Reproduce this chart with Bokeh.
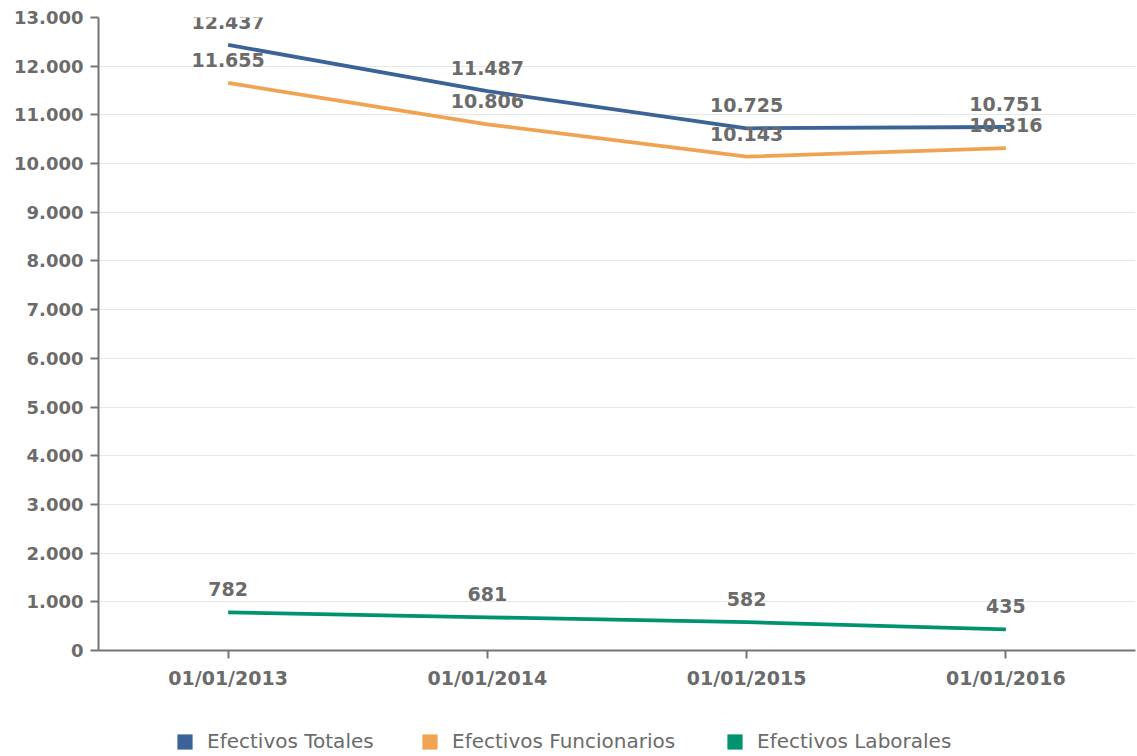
from bokeh.plotting import figure
from bokeh.layouts import column
from bokeh.models import ColumnDataSource, Legend, LegendItem, FixedTicker, Range1d, FactorRange
from bokeh.core.properties import value
from bokeh.embed import file_html
from bokeh.resources import INLINE

fechas = ["01/01/2013", "01/01/2014", "01/01/2015", "01/01/2016"]
totales = [12437, 11487, 10725, 10751]
funcionarios = [11655, 10806, 10143, 10316]
laborales = [782, 681, 582, 435]
series_names = ["Efectivos Totales", "Efectivos Funcionarios", "Efectivos Laborales"]
colors = ["#3b6397", "#f0a352", "#00936f"]
y_ticks = list(range(0, 13001, 1000))

def fmt(v):
    return f"{v:,}".replace(",", ".")

p = figure(width=1137, height=710, x_range=FactorRange(*fechas, range_padding=0),
           y_range=Range1d(0, 13000), output_backend="svg", toolbar_location=None,
           min_border_left=98, min_border_right=2, min_border_top=17, min_border_bottom=60)
p.outline_line_color = None
p.background_fill_color = "white"
p.border_fill_color = "white"

p.xgrid.grid_line_color = None
p.ygrid.grid_line_color = "#e6e6e6"
p.ygrid.grid_line_width = 1

p.yaxis.ticker = FixedTicker(ticks=y_ticks)
p.yaxis.major_label_overrides = {t: fmt(t) for t in y_ticks}
for ax in (p.xaxis, p.yaxis):
    ax.axis_line_color = "#757575"
    ax.axis_line_width = 2
    ax.major_tick_line_color = "#757575"
    ax.major_tick_line_width = 2
    ax.major_tick_out = 8
    ax.major_tick_in = 0
    ax.minor_tick_line_color = None
    ax.major_label_text_color = "#6b6b6b"
    ax.major_label_text_font = "DejaVu Sans"
    ax.major_label_text_font_style = "bold"
p.yaxis.major_label_text_font_size = "18px"
p.xaxis.major_label_text_font_size = "19px"
p.yaxis.major_label_standoff = 7
p.xaxis.major_label_standoff = 8

# legend strip below the chart (its frame is aligned with the chart frame)
lf = figure(width=1137, height=46, output_backend="svg", toolbar_location=None,
            x_range=Range1d(0, 1), y_range=Range1d(0, 1),
            min_border_left=0, min_border_right=0, min_border_top=0, min_border_bottom=0)
lf.axis.visible = False
lf.grid.visible = False
lf.outline_line_color = None

legend_x = [77, 322, 627]
for name, vals, col, lx in zip(series_names, [totales, funcionarios, laborales], colors, legend_x):
    src = ColumnDataSource(dict(x=fechas, y=vals, lab=[fmt(v) for v in vals]))
    p.line("x", "y", source=src, line_color=col, line_width=3.8)
    p.text("x", "y", text="lab", source=src, text_align="center", text_baseline="middle",
           y_offset=-23, text_color="#6b6b6b", text_font=value("DejaVu Sans"),
           text_font_style="bold", text_font_size="19px")
    # zero-area swatch renderer, used only to draw the legend square
    sw = lf.quad(left=[0], right=[0], top=[0], bottom=[0], fill_color=col, line_color=None)
    lg = Legend(items=[LegendItem(label=name, renderers=[sw])], orientation="horizontal",
                location=(lx, 3), padding=0, margin=0,
                glyph_width=19, glyph_height=19, label_text_font_size="20px",
                label_text_font="DejaVu Sans", label_text_color="#6b6b6b",
                background_fill_alpha=0, border_line_color=None, label_standoff=13)
    lf.add_layout(lg, "center")

open("out.html", "w").write(file_html(column(p, lf), INLINE))
